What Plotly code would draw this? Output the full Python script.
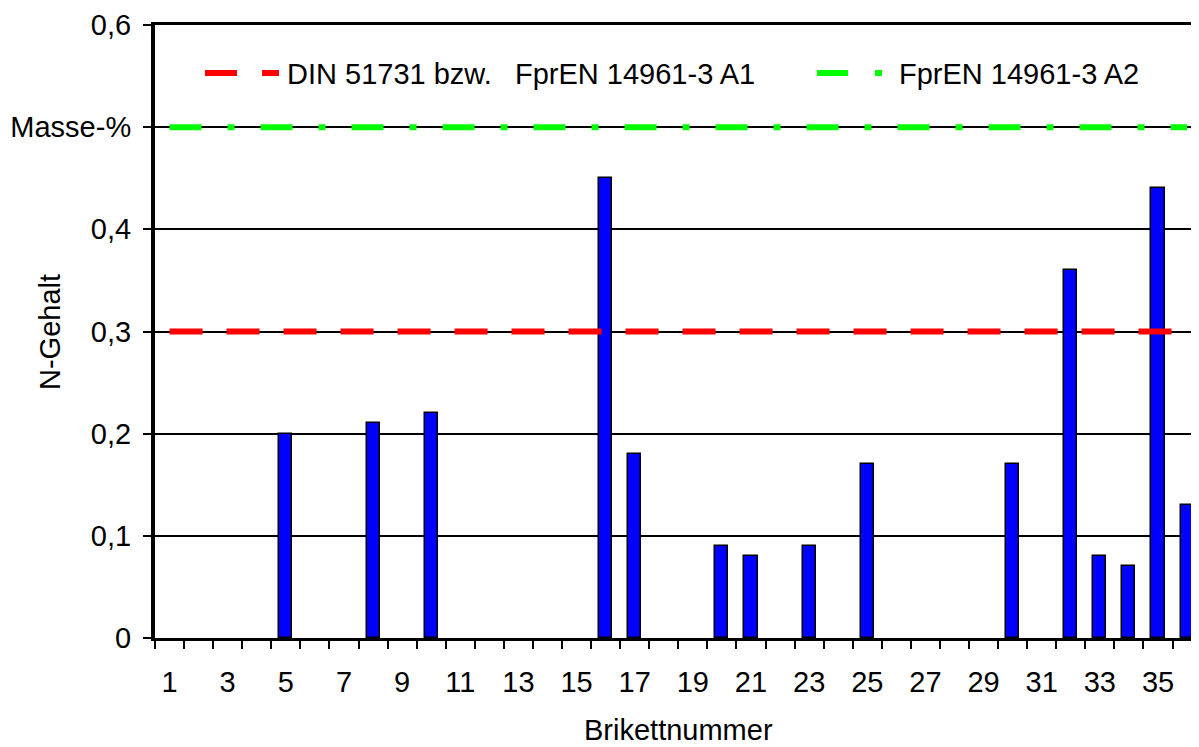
import plotly.graph_objects as go

# Data (None = no bar drawn for that briquette)
briketts = list(range(1, 37))
n_gehalt = [None, None, None, None, 0.20, None, None, 0.21, None, 0.22,
            None, None, None, None, None, 0.45, 0.18, None, None, 0.09,
            0.08, None, 0.09, None, 0.17, None, None, None, None, 0.17,
            None, 0.36, 0.08, 0.07, 0.44, 0.13]
limit_a1 = [0.3] * 36
limit_a2 = [0.5] * 36
legend_a1 = "DIN 51731 bzw."
legend_a1b = "FprEN 14961-3 A1"
legend_a2 = "FprEN 14961-3 A2"
x_ticks = list(range(1, 36, 2))
y_ticks = [0, 0.1, 0.2, 0.3, 0.4, 0.5, 0.6]
y_ticktext = ["0", "0,1", "0,2", "0,3", "0,4", "Masse-%", "0,6"]

FONT = "Liberation Sans, Arial, sans-serif"
FS = 29
OFF = 8  # page body margin
W, H = 1199 - OFF, 747 - OFF
L, R, T = 155 - OFF, 0, 25 - OFF
B = H - (638 - OFF)
PW = W - L - R
PH = H - T - B

def px(x):
    # screen x -> paper
    return (x - 155) / PW

def py(y):
    # screen y -> paper
    return (638 - y) / PH

fig = go.Figure()
fig.add_trace(go.Bar(
    x=briketts, y=n_gehalt, width=0.45,
    marker=dict(color="#0000FF", line=dict(color="black", width=1.5)),
    showlegend=False,
))
fig.add_trace(go.Scatter(
    x=briketts, y=limit_a1, mode="lines",
    line=dict(color="#FF0000", width=6, dash="33px,24px"),
    showlegend=False,
))
fig.add_trace(go.Scatter(
    x=briketts, y=limit_a2, mode="lines",
    line=dict(color="#00FF00", width=6, dash="32px,26px,7px,26px"),
    showlegend=False,
))

shapes = [
    dict(type="line", xref="paper", yref="paper",
         x0=px(205), x1=px(279), y0=py(73), y1=py(73),
         line=dict(color="#FF0000", width=6, dash="32px,25px")),
    dict(type="line", xref="paper", yref="paper",
         x0=px(817), x1=px(882), y0=py(73), y1=py(73),
         line=dict(color="#00FF00", width=6, dash="31px,27px,7px,26px")),
]

annotations = [
    dict(text=legend_a1, xref="paper", yref="paper", x=px(285), y=py(74),
         xanchor="left", yanchor="middle", showarrow=False,
         font=dict(family=FONT, size=FS, color="black")),
    dict(text=legend_a1b, xref="paper", yref="paper", x=px(513), y=py(74),
         xanchor="left", yanchor="middle", showarrow=False,
         font=dict(family=FONT, size=FS, color="black")),
    dict(text=legend_a2, xref="paper", yref="paper", x=px(897), y=py(74),
         xanchor="left", yanchor="middle", showarrow=False,
         font=dict(family=FONT, size=FS, color="black")),
    dict(text="N-Gehalt", xref="paper", yref="paper", x=px(50), y=py(332),
         xanchor="center", yanchor="middle", textangle=-90, showarrow=False,
         font=dict(family=FONT, size=FS, color="black")),
    dict(text="Brikettnummer", xref="paper", yref="paper", x=px(678), y=py(730),
         xanchor="center", yanchor="middle", showarrow=False,
         font=dict(family=FONT, size=FS, color="black")),
]

fig.update_layout(
    width=W, height=H,
    margin=dict(l=L, r=R, t=T, b=B, pad=0),
    paper_bgcolor="white", plot_bgcolor="white",
    font=dict(family=FONT, size=FS, color="black"),
    shapes=shapes, annotations=annotations,
    showlegend=False, bargap=0,
    xaxis=dict(
        range=[0.5, 36.41], tickmode="array", tickvals=x_ticks,
        ticktext=[str(v) for v in x_ticks], ticks="", ticklabelstandoff=16,
        showline=True, linecolor="black", linewidth=3, mirror=True,
        showgrid=False, zeroline=False,
        minor=dict(tickmode="array", tickvals=[c - 0.5 for c in briketts],
                   ticks="outside", ticklen=8, tickwidth=2, tickcolor="black",
                   showgrid=False),
    ),
    yaxis=dict(
        range=[0, 0.6], tickmode="array", tickvals=y_ticks, ticktext=y_ticktext,
        ticks="outside", ticklen=8, tickwidth=2, tickcolor="black",
        ticklabelstandoff=6,
        showline=True, linecolor="black", linewidth=4,
        showgrid=True, gridcolor="black", gridwidth=1.5, zeroline=False,
    ),
)

fig.write_html("out.html")
